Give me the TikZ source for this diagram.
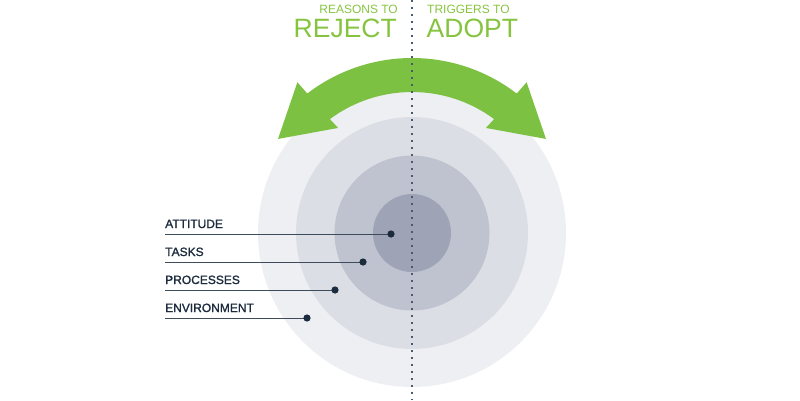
\documentclass[tikz,border=0pt]{standalone}
\usepackage{fontspec}
\setmainfont{Liberation Sans}
\newfontfamily\lblfont[FakeBold=1.3]{Liberation Sans}
\usetikzlibrary{calc}
\definecolor{agreen}{HTML}{7CC142}
\definecolor{tgreen}{HTML}{86C440}
\definecolor{navy}{HTML}{1C2B3D}
\definecolor{dotc}{HTML}{4A5A6E}
\definecolor{ring1}{HTML}{EEEFF3}
\definecolor{ring2}{HTML}{DCDEE5}
\definecolor{ring3}{HTML}{BFC2CF}
\definecolor{ring4}{HTML}{9EA3B5}
\tikzset{
  ring/.style={circle, inner sep=0pt, minimum size=#1, draw=none},
  small title/.style={text=tgreen, inner sep=0pt, font=\fontsize{12}{12}\selectfont},
  big title/.style={text=tgreen, inner sep=0pt, font=\fontsize{26.5}{26.5}\selectfont},
  lbl/.style={text=navy, inner sep=0pt, anchor=base west, font=\lblfont\fontsize{12}{12}\selectfont},
  leader/.style={draw=navy!85!white, line width=0.9pt},
  dotmark/.style={fill=navy},
}
\begin{document}
\begin{tikzpicture}[x=1pt,y=1pt]
\useasboundingbox (0,0) rectangle (800,400);
% rings
\node[ring=308, fill=ring1] (r1) at (412,167) {};
\node[ring=232, fill=ring2] (r2) at (412,167) {};
\node[ring=155, fill=ring3] (r3) at (412,167) {};
\node[ring=78, fill=ring4] (r4) at (412,167) {};
% arrow
\coordinate (C) at (412,170);
\fill[agreen] ($(C)+(126.5:138)$) arc[start angle=126.5, end angle=53.5, radius=138]
  -- ($(C)+(54.1:126)$) -- ($(C)+(34.2:162)$) -- ($(C)+(52.2:187)$) -- ($(C)+(52.5:172)$)
  arc[start angle=52.5, end angle=127.5, radius=172]
  -- ($(C)+(127.8:187)$) -- ($(C)+(145.8:162)$) -- ($(C)+(125.9:126)$) -- cycle;
% divider
\coordinate (top) at (412,400);
\coordinate (bot) at (412,0);
\draw[dotc, line width=1.3pt, dash pattern=on 1.6pt off 5.4pt] (top) -- (bot);
% titles
\node[small title, anchor=base east] (rs) at (398,386.5) {REASONS TO};
\node[big title, anchor=base east] (rj) at (397,362.3) {REJECT};
\node[small title, anchor=base west] (tg) at (427,386.5) {TRIGGERS TO};
\node[big title, anchor=base west] (ad) at (426.5,362.3) {ADOPT};
% labels
\node[lbl] (att) at (165,172) {ATTITUDE};
\node[lbl] (tsk) at (165,144) {TASKS};
\node[lbl] (prc) at (165,116) {PROCESSES};
\node[lbl] (env) at (165,88) {ENVIRONMENT};
\coordinate (attd) at (391,166);
\coordinate (tskd) at (363,138);
\coordinate (prcd) at (335,110);
\coordinate (envd) at (307,82);
\foreach \a in {att,tsk,prc,env}{
  \draw[leader] (\a.base west |- \a d) -- (\a d);
  \fill[dotmark] (\a d) circle (3.6);
}
\end{tikzpicture}
\end{document}
